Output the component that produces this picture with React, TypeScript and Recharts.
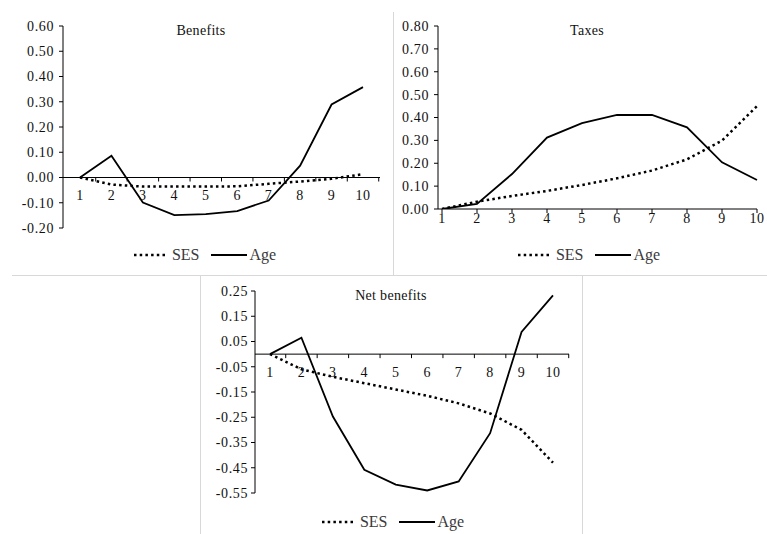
import { LineChart, Line, XAxis, YAxis, ReferenceLine, Legend } from "recharts";

// income deciles
const deciles = ["1", "2", "3", "4", "5", "6", "7", "8", "9", "10"];

const benefitsSes = [0, -0.028, -0.036, -0.036, -0.036, -0.035, -0.025, -0.016, -0.005, 0.013];
const benefitsAge = [0, 0.086, -0.099, -0.149, -0.145, -0.133, -0.091, 0.047, 0.289, 0.358];

const taxesSes = [0, 0.032, 0.057, 0.079, 0.105, 0.134, 0.168, 0.217, 0.299, 0.45];
const taxesAge = [0, 0.022, 0.153, 0.312, 0.375, 0.411, 0.411, 0.357, 0.204, 0.127];

const netSes = [0, -0.06, -0.09, -0.115, -0.14, -0.165, -0.195, -0.235, -0.3, -0.43];
const netAge = [0, 0.065, -0.247, -0.458, -0.517, -0.54, -0.504, -0.313, 0.088, 0.233];

const benefitsTicks = [-0.2, -0.1, 0, 0.1, 0.2, 0.3, 0.4, 0.5, 0.6];
const taxesTicks = [0, 0.1, 0.2, 0.3, 0.4, 0.5, 0.6, 0.7, 0.8];
const netTicks = [-0.55, -0.45, -0.35, -0.25, -0.15, -0.05, 0.05, 0.15, 0.25];

const seriesOrder = ["SES", "Age"];

const FONT = '"Liberation Serif", "Times New Roman", serif';
const INK = "#111";
const SES_DASH = "2.5 3.2";

const fmt = (v: number) => v.toFixed(2);

const rows = (ses: number[], age: number[]) =>
  deciles.map((d, i) => ({ decile: d, SES: ses[i], Age: age[i] }));

const tickStyle = { fontFamily: FONT, fontSize: 14, fill: INK, letterSpacing: 0.6 };

function renderLegend(props: any) {
  const items = [...(props.payload || [])].sort(
    (a: any, b: any) => seriesOrder.indexOf(a.value) - seriesOrder.indexOf(b.value)
  );
  return (
    <div style={{ display: "flex", justifyContent: "center", alignItems: "center", fontFamily: FONT, fontSize: 16, color: "#3a3a3a", lineHeight: "20px" }}>
      {items.map((entry: any) => {
        const dotted = entry.value === "SES";
        return (
          <span key={entry.value} style={{ display: "inline-flex", alignItems: "center", marginRight: dotted ? 12 : 0 }}>
            <svg width={dotted ? 31 : 36} height={6} style={{ display: "block" }}>
              <line x1={0} y1={3} x2={dotted ? 31 : 36} y2={3} stroke="#000"
                strokeWidth={dotted ? 2.5 : 1.8} strokeDasharray={dotted ? SES_DASH : undefined} />
            </svg>
            <span style={{ marginLeft: dotted ? 7 : 2 }}>{entry.value}</span>
          </span>
        );
      })}
    </div>
  );
}

interface PanelProps {
  title: string;
  ses: number[];
  age: number[];
  ticks: number[];
  box: { left: number; top: number; width: number; height: number };
  plot: { left: number; top: number; right: number; bottom: number };
  pad: { left: number; right: number };
  zeroAxis: boolean;
  yTickMargin: number;
  titleX: number;
  titleY: number;
  legendX: number;
  legendY: number;
}

function Panel(p: PanelProps) {
  const xAxisHeight = 20;
  const margin = {
    left: 0,
    top: p.plot.top - p.box.top,
    right: p.box.left + p.box.width - p.plot.right,
    bottom: p.box.top + p.box.height - p.plot.bottom - xAxisHeight,
  };
  const yMin = p.ticks[0];
  const yMax = p.ticks[p.ticks.length - 1];
  const plotW = p.plot.right - p.plot.left;
  const plotH = p.plot.bottom - p.plot.top;
  const zeroY = margin.top + (yMax / (yMax - yMin)) * plotH;
  const half = (plotW - p.pad.left - p.pad.right) / (deciles.length - 1) / 2;

  const zeroTick = (props: any) => {
    const { x, payload } = props;
    return (
      <g>
        <line x1={x + half} x2={x + half} y1={zeroY} y2={zeroY + 4} stroke="#000" />
        <text x={x} y={zeroY + 18} dy="0.35em" textAnchor="middle" {...tickStyle}>
          {payload.value}
        </text>
      </g>
    );
  };

  return (
    <div style={{ position: "absolute", left: p.box.left, top: p.box.top }}>
      <LineChart width={p.box.width} height={p.box.height} data={rows(p.ses, p.age)} margin={margin}>
        <XAxis
          dataKey="decile"
          height={xAxisHeight}
          interval={0}
          padding={p.pad}
          axisLine={p.zeroAxis ? false : { stroke: "#000" }}
          tickLine={p.zeroAxis ? false : { stroke: "#000" }}
          tickSize={4}
          tickMargin={0}
          tick={p.zeroAxis ? zeroTick : tickStyle}
        />
        <YAxis
          type="number"
          domain={[yMin, yMax]}
          ticks={p.ticks}
          interval={0}
          allowDataOverflow
          width={p.plot.left - p.box.left}
          tickFormatter={fmt}
          axisLine={{ stroke: "#000" }}
          tickLine={{ stroke: "#000" }}
          tickSize={4}
          tickMargin={p.yTickMargin}
          tick={tickStyle}
        />
        {p.zeroAxis && <ReferenceLine y={0} stroke="#000" strokeWidth={1} />}
        <Legend
          verticalAlign="middle"
          align="center"
          content={renderLegend}
          wrapperStyle={{ left: p.legendX - p.box.left - 100, top: p.legendY - p.box.top - 10, width: 200, height: 20 }}
        />
        <Line type="linear" dataKey="SES" name="SES" stroke="#000" strokeWidth={2.5}
          strokeDasharray={SES_DASH} dot={false} isAnimationActive={false} />
        <Line type="linear" dataKey="Age" name="Age" stroke="#000" strokeWidth={1.8}
          dot={false} isAnimationActive={false} />
      </LineChart>
      <div style={{ position: "absolute", left: p.titleX - p.box.left - 60, top: p.titleY - p.box.top - 10, width: 120, textAlign: "center", fontFamily: FONT, fontSize: 14, letterSpacing: 0.3, color: INK, lineHeight: "20px" }}>
        {p.title}
      </div>
    </div>
  );
}

const rule = "#d8d8d8";

export default function App() {
  return (
    <div style={{ position: "absolute", left: 0, top: 0, width: 767, height: 534, background: "#fff", overflow: "hidden" }}>
      <div style={{ position: "absolute", left: 12, top: 275, width: 755, height: 1, background: rule }} />
      <div style={{ position: "absolute", left: 393, top: 12, width: 1, height: 263, background: rule }} />
      <div style={{ position: "absolute", left: 200, top: 275, width: 1, height: 259, background: rule }} />
      <div style={{ position: "absolute", left: 582, top: 275, width: 1, height: 259, background: rule }} />

      <Panel
        title="Benefits"
        ses={benefitsSes}
        age={benefitsAge}
        ticks={benefitsTicks}
        box={{ left: 0, top: 0, width: 392, height: 270 }}
        plot={{ left: 63, top: 26, right: 380, bottom: 228 }}
        pad={{ left: 17, right: 17 }}
        zeroAxis
        yTickMargin={5}
        titleX={201}
        titleY={31}
        legendX={205}
        legendY={255}
      />
      <Panel
        title="Taxes"
        ses={taxesSes}
        age={taxesAge}
        ticks={taxesTicks}
        box={{ left: 394, top: 0, width: 373, height: 270 }}
        plot={{ left: 438, top: 26, right: 757, bottom: 209 }}
        pad={{ left: 4, right: 0 }}
        zeroAxis={false}
        yTickMargin={5}
        titleX={587}
        titleY={31}
        legendX={589}
        legendY={255}
      />
      <Panel
        title="Net benefits"
        ses={netSes}
        age={netAge}
        ticks={netTicks}
        box={{ left: 201, top: 276, width: 381, height: 258 }}
        plot={{ left: 255, top: 291, right: 569, bottom: 493 }}
        pad={{ left: 15, right: 16 }}
        zeroAxis
        yTickMargin={3}
        titleX={391}
        titleY={296}
        legendX={393}
        legendY={522}
      />
    </div>
  );
}
